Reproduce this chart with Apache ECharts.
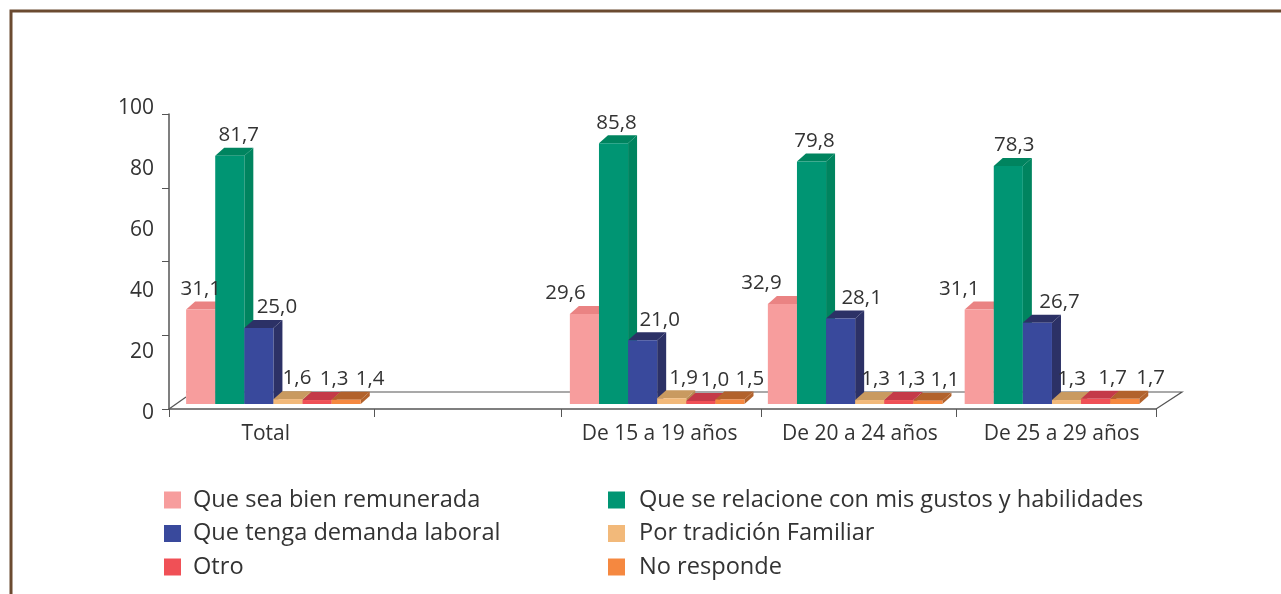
<!DOCTYPE html>
<html>
<head>
<meta charset="utf-8">
<style>
html, body { margin: 0; padding: 0; background: #fff; }
#main { width: 1281px; height: 594px; }
</style>
<script src="https://cdn.jsdelivr.net/npm/echarts@6/dist/echarts.min.js"></script>
</head>
<body>
<div id="main"></div>
<script>
var categories = ['Total', 'De 15 a 19 años', 'De 20 a 24 años', 'De 25 a 29 años'];
var seriesNames = ['Que sea bien remunerada', 'Que se relacione con mis gustos y habilidades', 'Que tenga demanda laboral', 'Por tradición Familiar', 'Otro', 'No responde'];
var remunerada = [31.1, 29.6, 32.9, 31.1];
var gustos = [81.7, 85.8, 79.8, 78.3];
var demanda = [25.0, 21.0, 28.1, 26.7];
var tradicion = [1.6, 1.9, 1.3, 1.3];
var otro = [1.3, 1.0, 1.3, 1.7];
var noResponde = [1.4, 1.5, 1.1, 1.7];
var yTickLabels = [0, 20, 40, 60, 80, 100];

// where each group sits on the 0-5 x scale, the gap after Total is an empty band
var groupPos = [0.529, 2.473, 3.476, 4.473];
var labelPos = [0.49, 2.485, 3.50, 4.522];
var tickPos = [0, 1.04, 1.985, 2.999, 3.987, 5];

var allValues = [remunerada, gustos, demanda, tradicion, otro, noResponde];
var frontColors = ['#f79d9d', '#009573', '#39499c', '#f2b97a', '#f05056', '#f58840'];
var topColors = ['#ea8383', '#00845f', '#2c3166', '#c99a60', '#c43a48', '#b2622c'];
var sideColors = ['#ea8383', '#00845f', '#2c3166', '#b98a50', '#b0303c', '#b2622c'];
// hand placed labels, the original ones do not sit centered on the bars
var labelShift = [
    [0, 9, 18, 9, 17, 24],
    [-19, 3, 17, 12, 14, 20],
    [-21, 3, 21, 6, 12, 17],
    [-20, 6, 22, 5, 17, 26]
];

var barW = 29.1, depthX = 9, depthY = 8;

function renderBar(params, api) {
    var s = params.seriesIndex;
    var g = params.dataIndex;
    var base = api.coord([api.value(0), 0]);
    var top = api.coord([api.value(0), api.value(1)]);
    var x = base[0] + (s - 3) * barW;
    var y = top[1];
    var w = barW, h = base[1] - top[1];
    return {
        type: 'group',
        children: [{
            type: 'polygon',
            shape: { points: [[x + w, y], [x + w + depthX, y - depthY], [x + w + depthX, base[1] - depthY], [x + w, base[1]]] },
            style: { fill: sideColors[s] }
        }, {
            type: 'polygon',
            shape: { points: [[x, y], [x + depthX, y - depthY], [x + w + depthX, y - depthY], [x + w, y]] },
            style: { fill: topColors[s] }
        }, {
            type: 'rect',
            shape: { x: x, y: y, width: w, height: h },
            style: { fill: frontColors[s] }
        }, {
            type: 'text',
            z2: 100,
            style: {
                text: api.value(1).toFixed(1).replace('.', ','),
                x: x + w / 2 + labelShift[g][s],
                y: y - depthY - 12.5,
                align: 'center',
                verticalAlign: 'middle',
                font: '20.5px "Open Sans"',
                fill: '#333'
            }
        }]
    };
}

var chart = echarts.init(document.getElementById('main'));
var series = seriesNames.map(function (name, s) {
    return {
        name: name,
        type: 'custom',
        xAxisIndex: 1,
        yAxisIndex: 1,
        renderItem: renderBar,
        itemStyle: { color: frontColors[s] },
        z: 10,
        clip: false,
        data: allValues[s].map(function (v, g) { return [groupPos[g], v]; })
    };
});

chart.setOption({
    backgroundColor: '#fff',
    animation: false,
    grid: [
        { left: 169, width: 987, top: 114, height: 295 },   // axis lines and ticks
        { left: 169, width: 987, top: 100, height: 304 },   // bars
        { left: 169, width: 987, top: 108, height: 305 }    // y labels, they do not line up with the ticks
    ],
    xAxis: [{
        gridIndex: 0, type: 'value', min: 0, max: 5,
        splitLine: { show: false },
        axisLine: { lineStyle: { color: '#555', width: 1.5 } },
        axisTick: { customValues: tickPos, length: 8, lineStyle: { color: '#555' } },
        axisLabel: {
            customValues: labelPos, margin: 15,
            fontFamily: 'Open Sans', fontSize: 21, color: '#333',
            formatter: function (v) { return categories[labelPos.indexOf(v)]; }
        }
    }, {
        gridIndex: 1, type: 'value', min: 0, max: 5, show: false
    }, {
        gridIndex: 2, type: 'value', min: 0, max: 5, show: false
    }],
    yAxis: [{
        gridIndex: 0, type: 'value', min: 0, max: 100, interval: 25,
        splitLine: { show: false },
        axisLine: { show: true, lineStyle: { color: '#555', width: 1.5 } },
        axisTick: { show: true, length: 7, lineStyle: { color: '#555' } },
        axisLabel: { show: false }
    }, {
        gridIndex: 1, type: 'value', min: 0, max: 100, show: false
    }, {
        gridIndex: 2, type: 'value', min: 0, max: 100, interval: 20,
        splitLine: { show: false },
        axisLine: { show: false },
        axisTick: { show: false },
        axisLabel: {
            customValues: yTickLabels, margin: 15,
            fontFamily: 'Open Sans', fontSize: 21, color: '#333'
        }
    }],
    legend: [{
        orient: 'vertical', left: 159, top: 483, itemWidth: 17, itemHeight: 17, itemGap: 9.5,
        selectedMode: false, icon: 'rect',
        textStyle: { fontFamily: 'Open Sans', fontSize: 23.6, color: '#333', padding: [0, 0, 0, 7] },
        data: [seriesNames[0], seriesNames[2], seriesNames[4]]
    }, {
        orient: 'vertical', left: 603, top: 483, itemWidth: 17, itemHeight: 17, itemGap: 9.5,
        selectedMode: false, icon: 'rect',
        textStyle: { fontFamily: 'Open Sans', fontSize: 23.6, color: '#333', padding: [0, 0, 0, 9] },
        data: [seriesNames[1], seriesNames[3], seriesNames[5]]
    }],
    graphic: [{
        // brown frame
        type: 'polyline',
        shape: { points: [[11, 594], [11, 11], [1281, 11]] },
        style: { stroke: '#6b4a30', lineWidth: 3, fill: null }
    }, {
        // floor of the 3d box
        type: 'polyline',
        z: 1,
        shape: { points: [[169, 409], [186, 397]] },
        style: { stroke: '#555', lineWidth: 1.2, fill: null }
    }, {
        type: 'polyline',
        z: 1,
        shape: { points: [[186, 392], [1182, 392], [1156, 409]] },
        style: { stroke: '#555', lineWidth: 1.2, fill: null }
    }],
    series: series
});
</script>
</body>
</html>
